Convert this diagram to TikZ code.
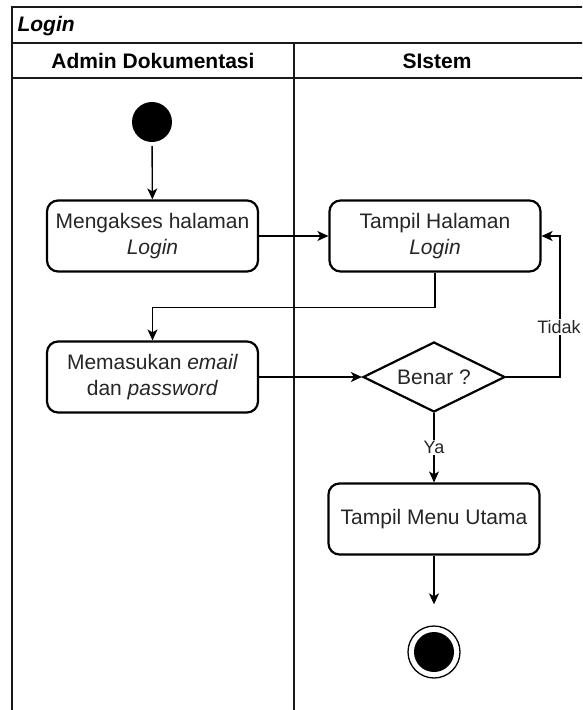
\documentclass[tikz,border=0pt]{standalone}
\usepackage{fontspec}
\setmainfont{Liberation Sans}
\usetikzlibrary{shapes.geometric,arrows.meta}
\begin{document}
\begin{tikzpicture}[x=1pt,y=-1pt,
  every node/.style={font=\fontsize{21}{26}\selectfont},
  frameline/.style={line width=1.6pt, draw=black!90},
  lanehead/.style={font=\fontsize{21}{25}\selectfont\bfseries},
  action/.style={draw, line width=2.2pt, rounded corners=11pt, minimum width=211pt,
    minimum height=71pt, align=center, inner sep=2pt, text=black!85},
  decision/.style={diamond, shape aspect=2, draw, line width=2.2pt, minimum width=142pt,
    minimum height=70pt, inner sep=0pt, text=black!85},
  startnode/.style={circle, fill=black, minimum size=40pt, inner sep=0pt},
  endring/.style={circle, draw, line width=1.3pt, minimum size=52pt, inner sep=0pt},
  flow/.style={line width=1.4pt, -{Stealth[length=11pt,width=10pt,inset=3pt]}},
  guard/.style={fill=white, inner sep=1pt, text=black!85, font=\fontsize{18}{20}\selectfont},
]
\useasboundingbox (0,0) rectangle (582,710);
\clip (0,0) rectangle (582,710);
\fill[white] (0,0) rectangle (582,710);

% swimlane frame
\draw[frameline] (12,720) -- (12,7) -- (590,7);
\draw[frameline] (12,43) -- (590,43);
\draw[frameline] (12,78) -- (590,78);
\draw[frameline] (294,43) -- (294,720);
\node[anchor=west, font=\fontsize{21}{25}\selectfont\bfseries\itshape] (title) at (14,26) {Login};
\node[lanehead] (laneA) at (153,61) {Admin Dokumentasi};
\node[lanehead] (laneB) at (437,61) {SIstem};

% activities
\node[startnode] (start) at (152,122) {};
\node[action] (akses) at (152.5,236) {Mengakses halaman\\\textit{Login}};
\node[action] (tampil) at (435,236) {Tampil Halaman\\\textit{Login}};
\node[action] (input) at (152.5,377) {Memasukan \textit{email}\\dan \textit{password}};
\node[decision] (cek) at (434,377) {Benar ?};
\node[action] (menu) at (434,519) {Tampil Menu Utama};
\node[endring] (end) at (434,652) {};
\fill (end.center) circle[radius=20pt];

% control flow
\draw[flow, shorten <=4pt] (start) -- (akses);
\draw[flow] (akses) -- (tampil);
\draw[flow] (tampil.south) -- ++(0,35) -| (input.north);
\draw[flow] (input) -- (cek);
\draw[flow] (cek.east) -- ++(54,0) coordinate (loopback) |- (tampil.east);
\node[guard] (tidak) at (559,327) {Tidak};
\draw[flow] (cek) -- node[guard] (ya) {Ya} (menu);
\draw[flow, shorten >=21pt] (menu) -- (end);
\end{tikzpicture}
\end{document}
